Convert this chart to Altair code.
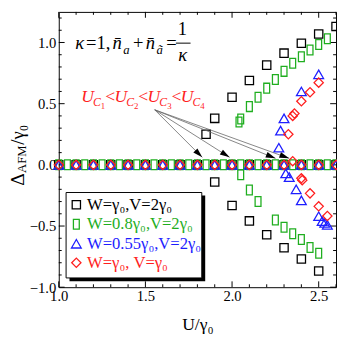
import altair as alt
import pandas as pd

# ---------------- data ----------------
U_STEP01 = [1.0, 1.1, 1.2, 1.3, 1.4, 1.5, 1.6, 1.7, 1.8, 1.9, 2.0, 2.1, 2.2, 2.3, 2.4, 2.5, 2.6]
U_STEP005 = [1.0, 1.05, 1.1, 1.15, 1.2, 1.25, 1.3, 1.35, 1.4, 1.45, 1.5, 1.55, 1.6, 1.65, 1.7,
             1.75, 1.8, 1.85, 1.9, 1.95, 2.0, 2.05, 2.1, 2.15, 2.2, 2.25, 2.3, 2.35, 2.4, 2.45,
             2.5, 2.55, 2.6]

black_u = [1.85, 1.9, 2.0, 2.1, 2.2, 2.3, 2.4, 2.5, 2.6,
           1.9, 2.0, 2.1, 2.2, 2.3, 2.4, 2.5]
black_d = [0.25, 0.38, 0.553, 0.69, 0.815, 0.913, 0.994, 1.07, 1.13,
           -0.14, -0.333, -0.458, -0.571, -0.677, -0.77, -0.868]

green_u = [2.04, 2.05, 2.1, 2.15, 2.2, 2.25, 2.3, 2.35, 2.4, 2.45, 2.5, 2.55,
           2.05, 2.1, 2.15, 2.25, 2.3, 2.35, 2.4, 2.45, 2.5]
green_d = [0.35, 0.375, 0.476, 0.553, 0.627, 0.698, 0.764, 0.83, 0.884, 0.939, 0.984, 1.03,
           -0.08, -0.206, -0.299, -0.45, -0.51, -0.563, -0.61, -0.675, -0.722]

blue_u = [2.27, 2.28, 2.3, 2.4, 2.5,
          2.31, 2.33, 2.37, 2.4, 2.5, 2.52, 2.535, 2.55]
blue_d = [0.14, 0.28, 0.38, 0.60, 0.74,
          -0.07, -0.10, -0.20, -0.29, -0.42, -0.46, -0.475, -0.49]

red_u = [2.325, 2.35, 2.36, 2.4, 2.45, 2.5,
         2.35, 2.4, 2.405, 2.45, 2.5, 2.55]
red_d = [0.25, 0.40, 0.42, 0.52, 0.593, 0.672,
         0.03, -0.11, -0.125, -0.233, -0.339, -0.418]

legend_labels = ["W=γ₀,V=2γ₀", "W=0.8γ₀,V=2γ₀", "W=0.55γ₀,V=2γ₀", "W=γ₀, V=γ₀"]

X_MAJOR = [1.0, 1.5, 2.0, 2.5]
X_MINOR = [1.1, 1.2, 1.3, 1.4, 1.6, 1.7, 1.8, 1.9, 2.1, 2.2, 2.3, 2.4, 2.6]
Y_MAJOR = [-1.0, -0.5, 0.0, 0.5, 1.0]
Y_MINOR = [-0.9, -0.8, -0.7, -0.6, -0.4, -0.3, -0.2, -0.1, 0.1, 0.2, 0.3, 0.4,
           0.6, 0.7, 0.8, 0.9, 1.1, 1.2]

# ---------------- layout ----------------
W, H = 284, 282
XDOM = [1.0, 2.6]
YDOM = [-1.0, 1.25]
OX, OY = 60, 8  # page position of plot origin


def U(px):
    return XDOM[0] + (px - OX) * (XDOM[1] - XDOM[0]) / W


def D(py):
    return YDOM[1] - (py - OY) * (YDOM[1] - YDOM[0]) / H


FONT = "Liberation Serif, Times New Roman, serif"
BLACK, GREEN, BLUE, RED = "#000000", "#1fae1f", "#1e1eff", "#ff1e1e"

xenc = alt.X("u:Q", scale=alt.Scale(domain=XDOM, nice=False, zero=False),
             axis=alt.Axis(values=X_MAJOR, format=".1f", ticks=False, domain=False, grid=False,
                           labelFont=FONT, labelFontSize=15, labelColor="black", labelPadding=2,
                           labelFlush=False, labelOverlap=False,
                           title="U/γ₀", titleFont=FONT, titleFontSize=18, titleFontWeight="normal",
                           titleColor="black", titlePadding=12))
yenc = alt.Y("d:Q", scale=alt.Scale(domain=YDOM, nice=False, zero=False),
             axis=alt.Axis(values=Y_MAJOR, format=".1f", ticks=False, domain=False, grid=False,
                           labelFont=FONT, labelFontSize=15, labelColor="black", labelPadding=3,
                           labelFlush=False, labelOverlap=False, title=None))


def pts(us, ds):
    return pd.DataFrame({"u": us, "d": ds})


GREEN_RECT = "M-0.6,-1H0.6V1H-0.6Z"

series = [
    (U_STEP01 + black_u, [0.0] * len(U_STEP01) + black_d, "square", 72, BLACK),
    (U_STEP005 + green_u, [0.0] * len(U_STEP005) + green_d, GREEN_RECT, 100, GREEN),
    (U_STEP01 + blue_u, [0.0] * len(U_STEP01) + blue_d, "triangle-up", 100, BLUE),
    (U_STEP01 + red_u, [0.0] * len(U_STEP01) + red_d, "diamond", 90, RED),
]

layers = []

# ticks (inward, on all four sides)
for vals, ln in [(Y_MAJOR, 6), (Y_MINOR, 3)]:
    df = pd.DataFrame({"d": vals})
    layers.append(alt.Chart(df).mark_rule(color="black", strokeWidth=1).encode(
        y=yenc, x=alt.value(0), x2=alt.value(ln)))
    layers.append(alt.Chart(df).mark_rule(color="black", strokeWidth=1).encode(
        y=yenc, x=alt.value(W), x2=alt.value(W - ln)))
for vals, ln in [(X_MAJOR, 6), (X_MINOR, 3)]:
    df = pd.DataFrame({"u": vals})
    layers.append(alt.Chart(df).mark_rule(color="black", strokeWidth=1).encode(
        x=xenc, y=alt.value(H), y2=alt.value(H - ln)))
    layers.append(alt.Chart(df).mark_rule(color="black", strokeWidth=1).encode(
        x=xenc, y=alt.value(0), y2=alt.value(ln)))

# data points
for us, ds, shape, size, col in series:
    layers.append(alt.Chart(pts(us, ds)).mark_point(
        shape=shape, size=size, filled=False, color=col, strokeWidth=1.3, opacity=1
    ).encode(x=xenc, y=yenc))

# arrows
arrow_start = (U(158.3), D(108.3))
arrow_tips = [(207, 157), (235, 157), (282, 158), (296, 158)]
arrow_angles = [135, 122.4, 111.9, 109.8]
adf = pd.DataFrame({
    "u": [arrow_start[0]] * 4, "d": [arrow_start[1]] * 4,
    "u2": [U(x) for x, _ in arrow_tips], "d2": [D(y) for _, y in arrow_tips],
})
layers.append(alt.Chart(adf).mark_rule(color="#666666", strokeWidth=0.8).encode(
    x=xenc, y=yenc, x2="u2:Q", y2="d2:Q"))
hdf = pd.DataFrame({"u": [U(x) for x, _ in arrow_tips], "d": [D(y) for _, y in arrow_tips],
                    "ang": arrow_angles})
layers.append(alt.Chart(hdf).mark_point(
    shape="M0,0L-0.3,1L0.3,1Z", size=400, filled=True, color="black", opacity=1, strokeWidth=0
).encode(x=xenc, y=yenc, angle=alt.Angle("ang:Q", scale=None)))

# legend box with shadow
shadow = pd.DataFrame({"u": [U(71)], "u2": [U(210)], "d": [D(196)], "d2": [D(284)]})
box = pd.DataFrame({"u": [U(67.5)], "u2": [U(206.5)], "d": [D(193)], "d2": [D(280.5)]})
layers.append(alt.Chart(shadow).mark_rect(color="black").encode(x=xenc, x2="u2:Q", y=yenc, y2="d2:Q"))
layers.append(alt.Chart(box).mark_rect(fill="white", stroke="black", strokeWidth=1).encode(
    x=xenc, x2="u2:Q", y=yenc, y2="d2:Q"))

row_y = [205.5, 225.5, 245.5, 265]
for (us, ds, shape, size, col), lab, ry in zip(series, legend_labels, row_y):
    sym = pd.DataFrame({"u": [U(78)], "d": [D(ry)]})
    layers.append(alt.Chart(sym).mark_point(
        shape=shape, size=size, filled=False, color=col, strokeWidth=1.3, opacity=1
    ).encode(x=xenc, y=yenc))
    tdf = pd.DataFrame({"u": [U(89)], "d": [D(ry)], "t": [lab]})
    layers.append(alt.Chart(tdf).mark_text(
        font=FONT, fontSize=17, color=col, align="left", baseline="middle"
    ).encode(x=xenc, y=yenc, text="t:N"))


def text_layer(rows, italic, color="black", baseline="alphabetic", angle=0):
    df = pd.DataFrame(rows, columns=["t", "px", "py", "size"])
    df["u"] = [U(v) for v in df["px"]]
    df["d"] = [D(v) for v in df["py"]]
    return alt.Chart(df).mark_text(
        font=FONT, fontStyle="italic" if italic else "normal", color=color,
        align="left", baseline=baseline, angle=angle
    ).encode(x=xenc, y=yenc, text="t:N", size=alt.Size("size:Q", scale=None))


# kappa annotation
layers.append(text_layer([("κ", 77, 46, 19), ("n̄", 115, 46, 19), ("n̄", 149, 46, 19),
                          ("κ", 182.5, 58, 19), ("a", 126, 51, 13), ("ã", 160, 51, 13)], True))
layers.append(text_layer([("=1,", 88, 46, 19), ("+", 136, 46, 19), ("=", 170, 46, 19),
                          ("1", 182, 32, 19)], False))
fbar = pd.DataFrame({"u": [U(180)], "u2": [U(195)], "d": [D(40)]})
layers.append(alt.Chart(fbar).mark_rule(color="black", strokeWidth=1).encode(x=xenc, x2="u2:Q", y=yenc))

# red U_C annotation
red_it, red_up = [], []
for i, ux in enumerate([83, 117, 151, 185]):
    red_it.append(("U", ux, 100, 18))
    red_it.append(("C", ux + 12, 104, 12))
    red_up.append((str(i + 1), ux + 20, 107, 9))
    if i < 3:
        red_up.append(("<", ux + 24.5, 100, 18))
layers.append(text_layer(red_it, True, RED))
layers.append(text_layer(red_up, False, RED))

# y-axis title (rotated)
layers.append(text_layer([("Δ", 18, 186, 20), ("AFM", 22, 173, 13), ("/γ₀", 18, 144, 19)],
                         False, baseline="middle", angle=270))

chart = alt.layer(*layers).properties(
    width=W, height=H,
    autosize=alt.AutoSizeParams(type="none"),
    padding={"left": 52, "top": 0, "right": 1, "bottom": 47},
).configure_view(stroke="black", strokeWidth=1)

chart.save("out.html", embed_options={"renderer": "svg", "actions": False})
